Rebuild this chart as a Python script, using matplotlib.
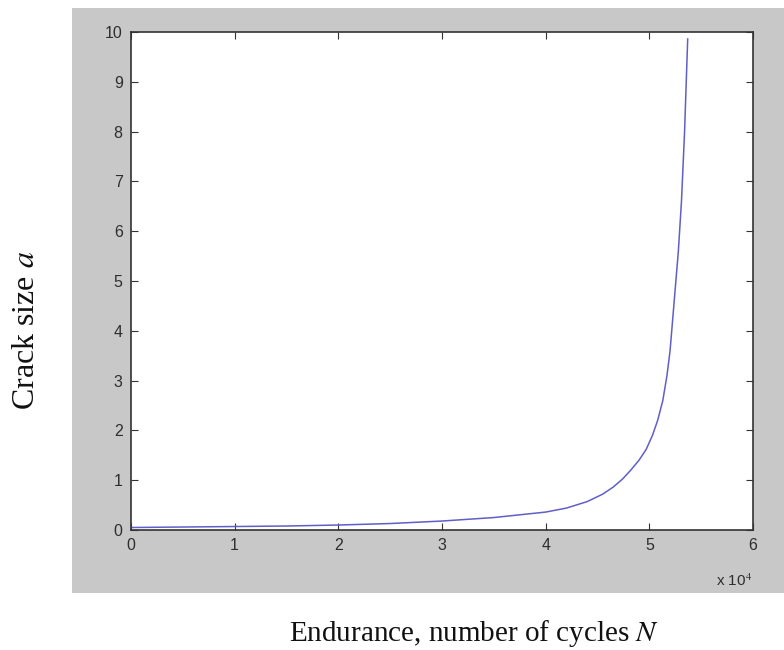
import matplotlib
matplotlib.use("Agg")
import matplotlib.pyplot as plt
import matplotlib.patches as patches
from matplotlib.ticker import FuncFormatter

# crack growth curve: cycles (x 10^4) and crack size
cycles_e4 = [0, 0.5, 1, 1.5, 2, 2.5, 3, 3.5, 4, 4.2, 4.4, 4.55, 4.65, 4.74,
             4.82, 4.9, 4.97, 5.03, 5.08, 5.13, 5.17, 5.2, 5.24, 5.28, 5.31,
             5.34, 5.37]
crack_size = [0.05, 0.06, 0.07, 0.08, 0.1, 0.13, 0.18, 0.25, 0.36, 0.44, 0.57,
              0.72, 0.86, 1.02, 1.2, 1.4, 1.62, 1.9, 2.2, 2.6, 3.1, 3.6, 4.6,
              5.6, 6.6, 8.0, 9.86]
x_ticks = [0, 1, 2, 3, 4, 5, 6]
y_ticks = list(range(0, 11))

plt.rcParams['mathtext.fontset'] = 'stix'

W, H = 784, 650
fig = plt.figure(figsize=(W / 100, H / 100), dpi=100)
fig.patch.set_facecolor('white')

# grey matlab-style figure panel, kept behind the axes
fig.patches.append(patches.Rectangle((72 / W, 1 - 593 / H), 1 - 72 / W, (593 - 8) / H,
                                     transform=fig.transFigure, facecolor='#c8c8c8',
                                     edgecolor='none', zorder=-10))

ax = fig.add_axes([131 / W, 1 - 530 / H, 622 / W, 498 / H])
ax.set_zorder(5)
ax.set_facecolor('white')
ax.plot([c * 1e4 for c in cycles_e4], crack_size, color='#5f5fc8', lw=1.1)

ax.set_xlim(0, 6e4)
ax.set_ylim(0, 10)
ax.set_xticks([t * 1e4 for t in x_ticks])
ax.xaxis.set_major_formatter(FuncFormatter(lambda v, p: '%g' % (v / 1e4)))
ax.set_yticks(y_ticks)

ax.tick_params(direction='in', length=5, width=0.8, top=True, right=True,
               labelsize=11.5, labelcolor='#2e2e2e', color='#333333')
ax.tick_params(axis='x', pad=6)
ax.tick_params(axis='y', pad=6)
for lbl in ax.get_xticklabels() + ax.get_yticklabels():
    lbl.set_family('Liberation Sans')
for s in ax.spines.values():
    s.set_color('#333333')
    s.set_linewidth(1.2)

fig.text(752 / W, 1 - 581 / H, r'x 10$^4$', ha='right', va='center',
         fontsize=11, color='#2e2e2e', family='Liberation Sans')

fig.text(474 / W, 1 - 641 / H, r'Endurance, number of cycles $N$', ha='center', va='baseline',
         fontsize=21, family='Liberation Serif', color='#111111')
fig.text(27 / W, 1 - 330 / H, r'Crack size $a$', ha='center', va='center', rotation=90,
         fontsize=23, family='Liberation Serif', color='#111111')

fig.savefig('out.png', dpi=100)
